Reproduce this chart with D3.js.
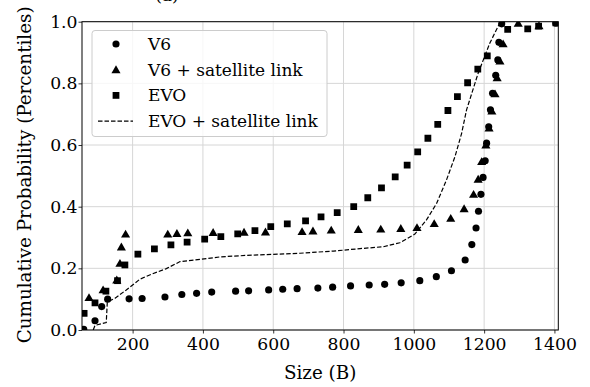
<!DOCTYPE html>
<html>
<head>
<meta charset="utf-8">
<script src="https://cdn.jsdelivr.net/npm/d3@7"></script>
<style>
  body { margin: 0; background: #fff; }
  svg { display: block; font-family: "DejaVu Serif Condensed", "DejaVu Serif", serif; }
</style>
</head>
<body>
<svg></svg>
<script>
// values
const v6X = [61, 93, 112, 129, 190, 227, 292, 340, 382, 425, 493, 530, 587, 627, 668, 727, 769, 820, 873, 917, 964, 1017, 1064, 1107, 1146, 1165, 1177, 1184, 1191, 1197, 1203, 1207, 1213, 1218, 1224, 1233, 1239, 1242, 1250, 1404]
const v6Y = [0.002, 0.030, 0.076, 0.100, 0.101, 0.102, 0.107, 0.115, 0.119, 0.123, 0.126, 0.127, 0.130, 0.132, 0.134, 0.136, 0.139, 0.143, 0.146, 0.148, 0.153, 0.160, 0.173, 0.192, 0.227, 0.277, 0.331, 0.385, 0.440, 0.495, 0.549, 0.606, 0.659, 0.714, 0.768, 0.826, 0.876, 0.933, 0.993, 0.995]

const v6SatX = [76, 116, 155, 164, 168, 180, 300, 326, 357, 429, 517, 578, 682, 713, 765, 842, 906, 963, 1009, 1058, 1105, 1143, 1170, 1183, 1193, 1205, 1214, 1222, 1231, 1237, 1245, 1254, 1297, 1356]
const v6SatY = [0.105, 0.130, 0.162, 0.216, 0.269, 0.311, 0.311, 0.313, 0.315, 0.316, 0.317, 0.318, 0.319, 0.321, 0.324, 0.326, 0.327, 0.329, 0.332, 0.345, 0.362, 0.393, 0.440, 0.489, 0.546, 0.600, 0.655, 0.710, 0.766, 0.818, 0.872, 0.928, 0.995, 0.987]

const evoX = [62, 93, 124, 157, 178, 215, 262, 309, 355, 405, 451, 499, 548, 593, 640, 692, 736, 782, 829, 869, 908, 947, 981, 1011, 1040, 1068, 1097, 1124, 1153, 1182, 1209, 1267, 1324, 1355, 1404]
const evoY = [0.054, 0.088, 0.126, 0.160, 0.211, 0.246, 0.263, 0.276, 0.285, 0.295, 0.303, 0.312, 0.322, 0.335, 0.344, 0.354, 0.367, 0.381, 0.400, 0.429, 0.461, 0.497, 0.535, 0.578, 0.622, 0.667, 0.712, 0.757, 0.802, 0.846, 0.889, 0.975, 0.977, 0.986, 0.996]

const evoSatX = [88, 93, 125, 128, 150, 182, 221, 256, 296, 335, 392, 448, 524, 676, 771, 847, 913, 960, 1003, 1036, 1065, 1093, 1117, 1136, 1150, 1183, 1216, 1245, 1260]
const evoSatY = [0.000, 0.015, 0.024, 0.091, 0.103, 0.130, 0.165, 0.182, 0.199, 0.222, 0.229, 0.237, 0.242, 0.249, 0.256, 0.264, 0.270, 0.283, 0.311, 0.357, 0.411, 0.487, 0.562, 0.638, 0.714, 0.833, 0.930, 0.997, 1.0]

const xTicks = [200, 400, 600, 800, 1000, 1200, 1400]
const yTicks = [0.0, 0.2, 0.4, 0.6, 0.8, 1.0]
const legendLabels = ["V6", "V6 + satellite link", "EVO", "EVO + satellite link"]

const svgWidth = 590
const svgHeight = 387
const margins = { top: 21.7, bottom: 57, left: 82, right: 31.7 }
const plotWidth = svgWidth - margins.left - margins.right
const plotHeight = svgHeight - margins.top - margins.bottom

const svg = d3.select("svg")
    .attr("width", svgWidth)
    .attr("height", svgHeight)

// only the condensed serif is installed, so stretch it back to normal width
function widen(sel) {
    sel.each(function () {
        const w = this.getComputedTextLength()
        d3.select(this).attr("textLength", w * 1.1).attr("lengthAdjust", "spacingAndGlyphs")
    })
}

const xScale = d3.scaleLinear().domain([56, 1411]).range([0, plotWidth])
const yScale = d3.scaleLinear().domain([0, 1]).range([plotHeight, 0])

// panel title, cut off by the top edge like in the original
svg.append("text")
    .text("(a)")
    .attr("x", 167)
    .attr("y", 1)
    .attr("text-anchor", "middle")
    .attr("font-size", 17.4)
    .call(widen)

const plot = svg.append("g")
    .attr("transform", `translate(${margins.left},${margins.top})`)

svg.append("clipPath").attr("id", "clip")
    .append("rect").attr("width", plotWidth).attr("height", plotHeight)

// grid
plot.append("g").selectAll("line").data(xTicks).join("line")
    .attr("x1", d => xScale(d)).attr("x2", d => xScale(d))
    .attr("y1", 0).attr("y2", plotHeight)
    .attr("stroke", "#d6d6d6").attr("stroke-width", 1)
plot.append("g").selectAll("line").data(yTicks).join("line")
    .attr("x1", 0).attr("x2", plotWidth)
    .attr("y1", d => yScale(d)).attr("y2", d => yScale(d))
    .attr("stroke", "#d6d6d6").attr("stroke-width", 1)

// axes
const xAxis = plot.append("g")
    .attr("transform", `translate(0,${plotHeight})`)
    .call(d3.axisBottom(xScale).tickValues(xTicks).tickSize(3.5).tickPadding(4).tickFormat(d3.format("d")))
const yAxis = plot.append("g")
    .call(d3.axisLeft(yScale).tickValues(yTicks).tickSize(3.5).tickPadding(1).tickFormat(d3.format(".1f")))
for (const ax of [xAxis, yAxis]) {
    ax.attr("font-family", null)
    ax.select(".domain").remove()
    ax.selectAll("line").attr("stroke", "#000").attr("stroke-width", 0.8)
    ax.selectAll("text").attr("font-size", 17.4).attr("fill", "#000").call(widen)
}

const marks = plot.append("g").attr("clip-path", "url(#clip)")

// EVO + satellite link (dashed)
const line = d3.line().x(d => xScale(d[0])).y(d => yScale(d[1]))
marks.append("path")
    .attr("d", line(evoSatX.map((x, i) => [x, evoSatY[i]])))
    .attr("fill", "none")
    .attr("stroke", "#000")
    .attr("stroke-width", 1.2)
    .attr("stroke-dasharray", "4.5,2")

const symCircle = d3.symbol().type(d3.symbolCircle).size(40)
const symTri = d3.symbol().type(d3.symbolTriangle).size(36)
const symSquare = d3.symbol().type(d3.symbolSquare).size(46)

function drawPoints(xs, ys, sym, dy) {
    marks.append("g").selectAll("path").data(xs).join("path")
        .attr("d", sym)
        .attr("transform", (d, i) => `translate(${xScale(d)},${yScale(ys[i]) + dy})`)
        .attr("fill", "#000")
}
drawPoints(v6X, v6Y, symCircle, 0)
drawPoints(v6SatX, v6SatY, symTri, 0.8)
drawPoints(evoX, evoY, symSquare, 0)

// frame
plot.append("rect")
    .attr("width", plotWidth).attr("height", plotHeight)
    .attr("fill", "none").attr("stroke", "#000").attr("stroke-width", 1)

// axis titles
svg.append("text")
    .text("Size (B)")
    .attr("x", margins.left + plotWidth / 2)
    .attr("y", 379)
    .attr("text-anchor", "middle")
    .attr("font-size", 18.5)
    .call(widen)
svg.append("text")
    .text("Cumulative Probability (Percentiles)")
    .attr("transform", `translate(25,${margins.top + plotHeight / 2 - 1}) rotate(-90)`)
    .attr("dy", "0.35em")
    .attr("text-anchor", "middle")
    .attr("font-size", 18.5)
    .call(widen)

// legend
const legend = svg.append("g").attr("transform", "translate(92,30.5)")
legend.append("rect")
    .attr("width", 235).attr("height", 106)
    .attr("rx", 3)
    .attr("fill", "#fff").attr("fill-opacity", 0.8)
    .attr("stroke", "#ccc").attr("stroke-width", 1)
const rowY = i => 13.5 + i * 25.7
legendLabels.forEach((label, i) => {
    if (i === 0) legend.append("path").attr("d", symCircle).attr("transform", `translate(24,${rowY(i)})`)
    if (i === 1) legend.append("path").attr("d", symTri).attr("transform", `translate(24,${rowY(i) + 0.8})`)
    if (i === 2) legend.append("path").attr("d", symSquare).attr("transform", `translate(24,${rowY(i)})`)
    if (i === 3) legend.append("line")
        .attr("x1", 6).attr("x2", 41).attr("y1", rowY(i)).attr("y2", rowY(i))
        .attr("stroke", "#000").attr("stroke-width", 1.2).attr("stroke-dasharray", "4.5,2")
    legend.append("text")
        .text(label)
        .attr("x", 56)
        .attr("y", rowY(i))
        .attr("dy", "0.35em")
        .attr("font-size", 17.2)
        .call(widen)
})
</script>
</body>
</html>
